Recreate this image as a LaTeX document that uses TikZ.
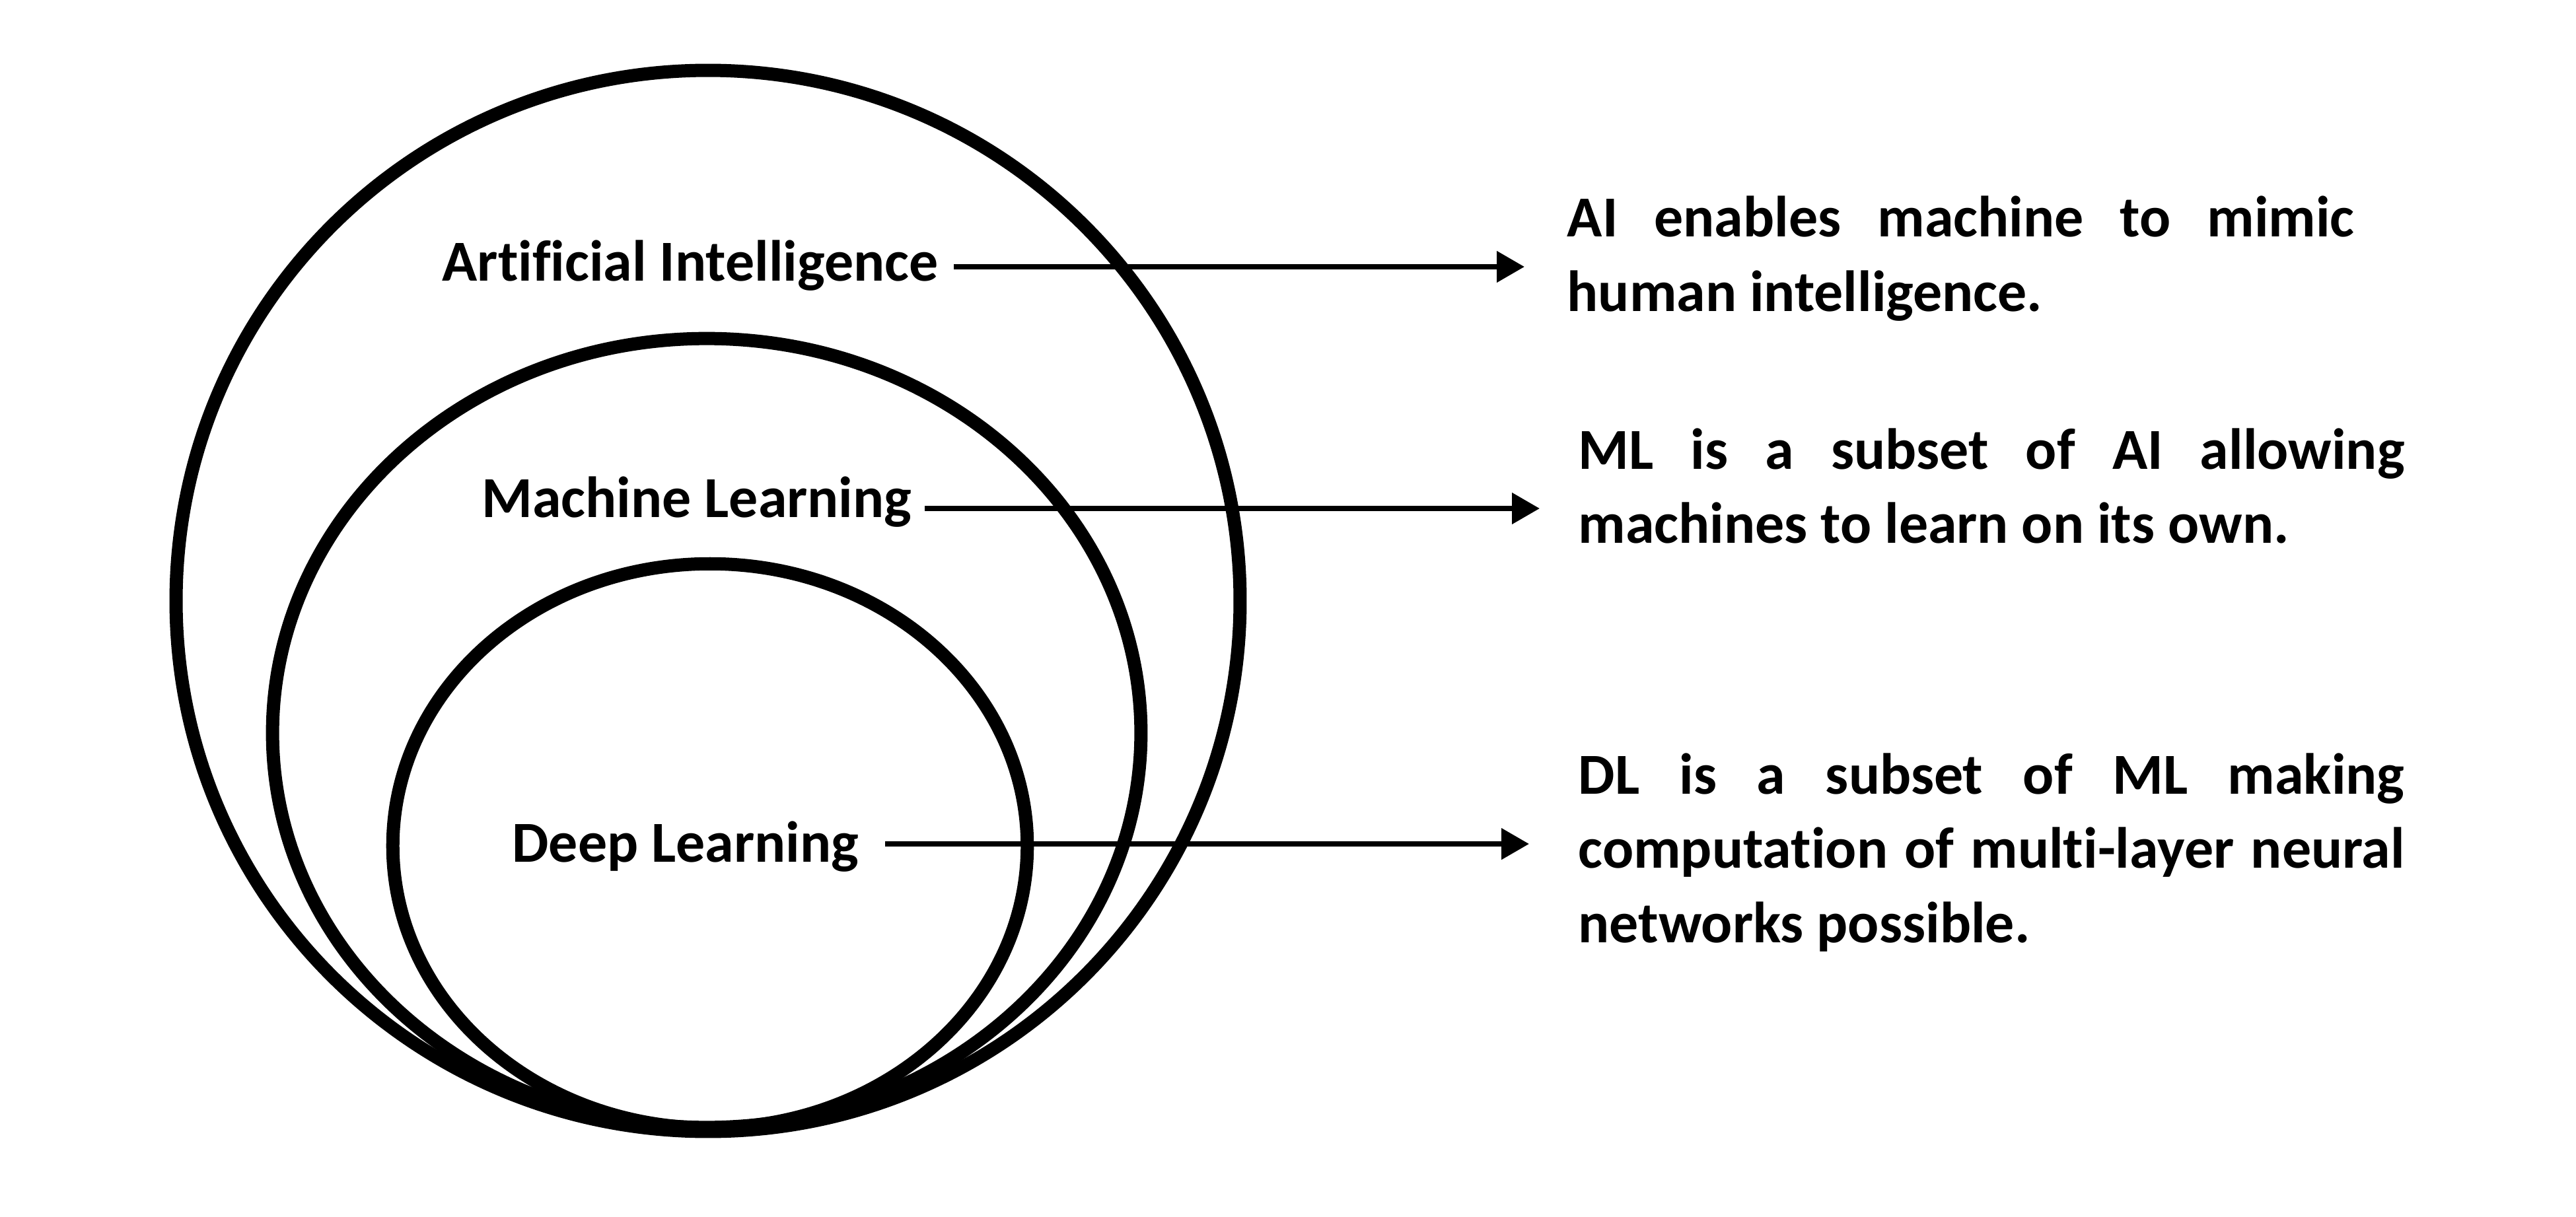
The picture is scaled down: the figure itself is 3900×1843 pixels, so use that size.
\documentclass[tikz,border=0pt]{standalone}
\usepackage{fontspec}
\setmainfont{Carlito}[Ligatures=NoCommon]
\usetikzlibrary{arrows.meta}
\begin{document}
\begin{tikzpicture}[x=0.01cm,y=-0.01cm,
  ring/.style={line width=0.2cm},
  lab/.style={font=\fontsize{25}{32}\selectfont\bfseries, inner sep=0pt, anchor=base east},
  desc/.style={font=\fontsize{25}{32}\selectfont\bfseries, inner sep=0pt, anchor=base west, align=justify},
  arr/.style={line width=0.08cm, -{Triangle[length=0.42cm,width=0.46cm]}}]
\useasboundingbox (0,0) rectangle (3900,1843);
% nested sets
\draw[ring] (1072,910) ellipse [x radius=8.05cm, y radius=8.03cm];
\draw[ring] (1070,1110) ellipse [x radius=6.57cm, y radius=5.97cm];
\draw[ring] (1075,1281) ellipse [x radius=4.80cm, y radius=4.27cm];
% labels
\node[lab] (ailab) at (1421,426) {Artificial Intelligence};
\node[lab] (mllab) at (1381,783) {Machine Learning};
\node[lab] (dllab) at (1301,1305) {Deep Learning};
% descriptions
\node[desc, text width=11.91cm] (aitxt) at (2372,359) {AI enables machine to mimic\linebreak human intelligence.};
\node[desc, text width=12.5cm] (mltxt) at (2389,710) {ML is a subset of AI allowing\linebreak machines to learn on its own.};
\node[desc, text width=12.5cm] (dltxt) at (2389,1202) {DL is a subset of ML making\linebreak computation of multi-layer neural\linebreak networks possible.};
% arrows
\coordinate (aitip) at (2308,404);
\coordinate (mltip) at (2331,770);
\coordinate (dltip) at (2315,1278);
\draw[arr, shorten <=0.23cm] (ailab.east |- aitip) -- (aitip);
\draw[arr, shorten <=0.19cm] (mllab.east |- mltip) -- (mltip);
\draw[arr, shorten <=0.39cm] (dllab.east |- dltip) -- (dltip);
\end{tikzpicture}
\end{document}
